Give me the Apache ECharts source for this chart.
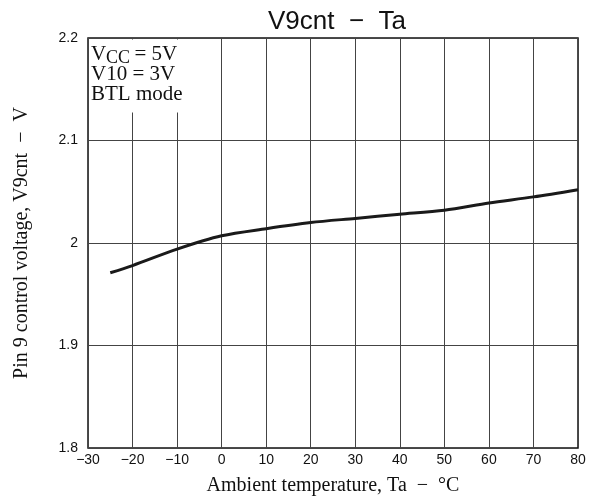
<!DOCTYPE html>
<html>
<head>
<meta charset="utf-8">
<script src="https://cdn.jsdelivr.net/npm/echarts@6/dist/echarts.min.js"></script>
<style>
  html, body { margin: 0; padding: 0; background: #fff; }
  #main { width: 598px; height: 504px; }
</style>
</head>
<body>
<div id="main"></div>
<script>
  // ambient temperature (°C) and pin 9 control voltage (V)
  var temps = [-25, -20, -10, 0, 10, 20, 30, 40, 50, 60, 70, 80];
  var volts = [1.971, 1.978, 1.994, 2.007, 2.014, 2.020, 2.024, 2.028, 2.032, 2.039, 2.045, 2.052];

  var data = temps.map(function (t, i) { return [t, volts[i]]; });

  var myChart = echarts.init(document.getElementById('main'));

  var serif = 'Liberation Serif';

  var option = {
    animation: false,
    backgroundColor: '#fff',
    title: [{
      text: 'V9cnt  \u2212  Ta',
      left: 332,
      textAlign: 'center',
      top: 4,
      textStyle: {
        fontFamily: 'Liberation Sans',
        fontWeight: 'normal',
        fontSize: 26,
        color: '#111'
      }
    }, {
      // condition box in the top-left corner, the "CC" subscript is placed on its own below
      text: 'V{gap|} = 5V\nV10 = 3V\nBTL mode',
      left: 89,
      top: 40,
      padding: [4, 6, 8, 2],
      backgroundColor: '#fff',
      textStyle: {
        fontFamily: serif,
        fontWeight: 'normal',
        fontSize: 21,
        lineHeight: 20,
        color: '#111',
        rich: {
          gap: { width: 23, fontSize: 21, lineHeight: 20 }
        }
      }
    }, {
      text: 'CC',
      left: 106,
      top: 49,
      padding: 0,
      textStyle: {
        fontFamily: serif,
        fontWeight: 'normal',
        fontSize: 18,
        color: '#111'
      }
    }],
    grid: {
      left: 88,
      right: 20,
      top: 38,
      bottom: 56,
      show: true,
      borderColor: '#111',
      borderWidth: 1.5,
      z: 0
    },
    xAxis: {
      type: 'value',
      min: -30,
      max: 80,
      interval: 10,
      name: 'Ambient temperature, Ta  \u2212  \u00b0C',
      nameLocation: 'middle',
      nameGap: 28,
      nameTextStyle: {
        fontFamily: serif,
        fontSize: 20,
        color: '#111'
      },
      axisLine: { show: false },
      axisTick: { show: false },
      axisLabel: {
        fontFamily: 'Liberation Sans',
        fontSize: 14,
        color: '#111',
        margin: 5,
        formatter: function (v) { return String(v).replace('-', '\u2212'); }
      },
      splitLine: { show: true, lineStyle: { color: '#444', width: 1 } }
    },
    yAxis: {
      type: 'value',
      min: 1.8,
      max: 2.2,
      interval: 0.1,
      name: 'Pin 9 control voltage, V9cnt  \u2212  V',
      nameLocation: 'middle',
      nameGap: 56,
      nameTextStyle: {
        fontFamily: serif,
        fontSize: 20,
        color: '#111'
      },
      axisLine: { show: false },
      axisTick: { show: false },
      axisLabel: {
        fontFamily: 'Liberation Sans',
        fontSize: 14,
        color: '#111',
        margin: 10,
        formatter: function (v) { return String(Math.round(v * 10) / 10); }
      },
      splitLine: { show: true, lineStyle: { color: '#444', width: 1 } }
    },
    series: [{
      type: 'line',
      data: data,
      smooth: 0.3,
      symbol: 'none',
      z: 1,
      lineStyle: { color: '#1a1a1a', width: 3 }
    }]
  };

  myChart.setOption(option);
</script>
</body>
</html>
